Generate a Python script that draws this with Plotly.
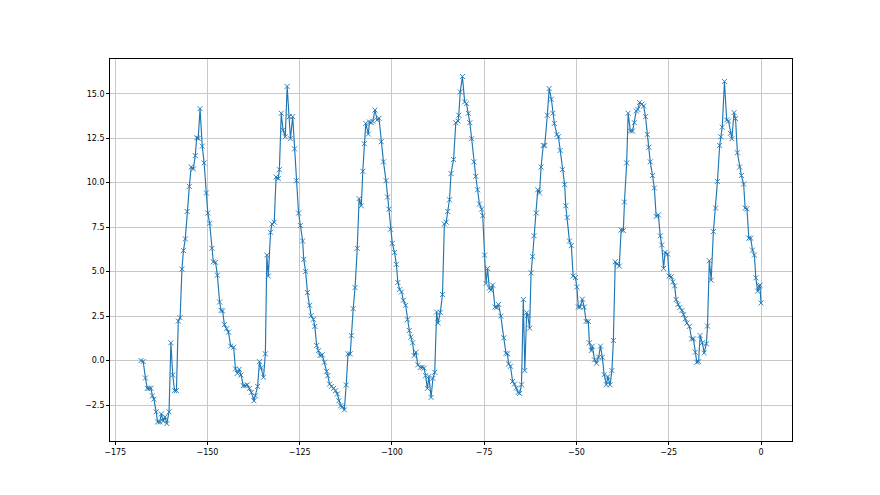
import plotly.graph_objects as go

hours = [
    -168.0, -167.4, -166.8, -166.3, -165.8, -165.3, -164.9, -164.5, -163.9, -163.5,
    -162.9, -162.5, -162.0, -161.5, -161.0, -160.4, -159.9, -159.4, -158.9, -158.4,
    -157.9, -157.4, -156.9, -156.5, -156.0, -155.5, -154.9, -154.4, -153.8, -153.3,
    -152.9, -152.5, -152.0, -151.4, -150.9, -150.3, -149.9, -149.4, -148.8, -148.4,
    -147.8, -147.3, -146.7, -146.3, -145.9, -145.4, -144.8, -144.3, -143.7, -142.9,
    -142.4, -141.9, -141.4, -140.9, -140.3, -139.8, -139.2, -138.6, -138.1, -137.4,
    -137.0, -136.4, -135.9, -135.4, -134.8, -134.3, -133.9, -133.5, -132.9, -132.5,
    -131.9, -131.4, -130.8, -130.5, -130.0, -129.5, -128.9, -128.4, -127.8, -127.5,
    -126.9, -126.4, -125.9, -125.3, -124.8, -124.2, -123.9, -123.4, -122.9, -122.3,
    -121.9, -121.3, -120.9, -120.4, -119.9, -119.5, -118.9, -118.3, -117.7, -117.4,
    -116.9, -116.4, -115.8, -115.3, -114.8, -114.4, -113.9, -113.4, -112.9, -112.4,
    -111.9, -111.3, -111.0, -110.5, -110.0, -109.4, -108.9, -108.3, -107.9, -107.5,
    -107.1, -106.4, -106.1, -105.6, -105.2, -104.6, -104.0, -103.5, -102.9, -102.3,
    -101.6, -101.2, -100.8, -100.4, -99.9, -99.3, -98.8, -98.4, -97.9, -97.4,
    -96.9, -96.3, -95.8, -95.3, -94.9, -94.4, -94.0, -93.5, -93.0, -92.3,
    -91.8, -91.3, -90.9, -90.4, -90.0, -89.4, -88.9, -88.4, -87.9, -87.5,
    -86.9, -86.3, -85.8, -85.3, -84.9, -84.4, -84.0, -83.3, -82.7, -82.1,
    -81.9, -81.5, -80.9, -80.3, -79.8, -79.3, -78.9, -78.4, -77.8, -77.3,
    -76.8, -76.3, -75.7, -75.4, -74.9, -74.5, -74.1, -73.6, -73.2, -72.7,
    -72.1, -71.6, -71.1, -70.5, -69.7, -69.1, -68.7, -68.4, -67.9, -67.3,
    -66.8, -66.3, -65.8, -65.4, -64.9, -64.4, -64.0, -63.5, -63.2, -62.7,
    -62.3, -61.9, -61.5, -60.9, -60.5, -60.0, -59.6, -59.0, -58.6, -57.9,
    -57.4, -56.8, -56.4, -56.0, -55.3, -54.9, -54.4, -53.8, -53.2, -52.9,
    -52.5, -51.9, -51.4, -50.9, -50.3, -49.9, -49.5, -49.0, -48.4, -47.9,
    -47.4, -46.8, -46.5, -46.0, -45.7, -45.1, -44.6, -44.0, -43.5, -43.0,
    -42.5, -41.9, -41.5, -40.9, -40.4, -40.0, -39.5, -39.0, -38.4, -37.9,
    -37.3, -37.0, -36.4, -36.0, -35.4, -34.8, -34.3, -33.8, -33.4, -32.9,
    -32.3, -31.8, -31.3, -30.8, -30.4, -30.0, -29.4, -28.9, -28.4, -27.8,
    -27.3, -26.9, -26.4, -26.0, -25.3, -24.9, -24.3, -23.9, -23.4, -23.0,
    -22.5, -22.0, -21.4, -21.0, -20.5, -20.1, -19.4, -18.8, -18.3, -17.8,
    -17.4, -16.9, -16.5, -15.9, -15.4, -14.8, -14.5, -14.0, -13.5, -12.9,
    -12.3, -11.8, -11.2, -10.9, -10.5, -9.9, -9.3, -8.8, -8.3, -7.9,
    -7.3, -6.9, -6.4, -5.8, -5.3, -4.7, -4.3, -3.8, -3.3, -2.8,
    -2.3, -1.8, -1.4, -0.9, -0.5, -0.3, 0.0,
]

temps = [
    0.00, -0.05, -0.98, -1.56, -1.56, -1.56, -1.98, -2.17, -2.88, -3.45,
    -3.45, -3.00, -3.40, -3.16, -3.54, -2.88, 1.00, -0.81, -1.69, -1.69,
    2.22, 2.41, 5.14, 6.18, 6.84, 8.38, 9.79, 10.88, 10.77, 11.52,
    12.52, 12.49, 14.16, 12.05, 11.11, 9.42, 8.29, 7.72, 6.31, 5.55,
    5.52, 4.80, 3.29, 2.82, 2.79, 2.02, 1.79, 1.60, 0.81, 0.75,
    -0.47, -0.72, -0.49, -0.81, -1.41, -1.41, -1.36, -1.56, -1.79, -2.26,
    -1.98, -1.45, -0.06, -0.41, -0.94, 0.38, 5.93, 4.75, 7.21, 7.68,
    7.78, 10.32, 10.23, 10.73, 13.90, 12.95, 12.58, 15.41, 13.71, 12.47,
    13.71, 11.90, 10.11, 8.29, 7.59, 6.72, 5.69, 5.01, 3.82, 3.11,
    2.52, 2.32, 1.92, 0.85, 0.56, 0.28, 0.32, -0.09, -0.60, -0.85,
    -1.32, -1.45, -1.56, -1.69, -1.88, -2.26, -2.54, -2.60, -2.77, -1.37,
    0.38, 0.38, 1.41, 2.92, 4.10, 6.31, 9.10, 8.70, 10.64, 12.19,
    13.33, 12.73, 13.41, 13.37, 13.45, 14.08, 13.52, 13.62, 12.30, 11.17,
    10.11, 9.19, 8.51, 7.38, 6.59, 6.08, 5.41, 4.39, 3.99, 3.86,
    3.39, 3.11, 2.30, 1.69, 1.32, 1.00, 0.28, 0.47, -0.24, -0.38,
    -0.38, -0.43, -0.85, -1.56, -0.89, -2.07, -1.00, -0.66, 2.73, 2.11,
    2.71, 3.71, 7.68, 7.78, 8.38, 9.04, 10.51, 11.30, 13.37, 13.46,
    13.79, 15.10, 15.97, 14.54, 14.44, 13.90, 13.37, 12.47, 11.17, 10.36,
    9.60, 8.80, 8.51, 8.14, 5.93, 4.33, 5.18, 4.08, 3.95, 4.24,
    3.01, 2.98, 3.16, 2.50, 1.28, 0.41, 0.38, -0.19, -0.32, -1.17,
    -1.32, -1.54, -1.79, -1.85, -1.36, 3.43, -0.56, 2.69, 2.54, 1.82,
    4.93, 5.84, 7.02, 8.29, 9.60, 9.42, 10.88, 12.09, 12.09, 13.79,
    15.29, 14.69, 13.90, 13.33, 12.71, 12.58, 11.81, 10.73, 9.89, 8.70,
    8.04, 6.72, 6.46, 4.75, 4.67, 4.14, 3.01, 3.01, 3.45, 3.01,
    2.20, 2.20, 1.00, 0.56, 0.81, 0.04, -0.15, 0.19, 0.81, 0.19,
    -0.79, -1.36, -0.90, -1.36, -0.56, 1.13, 5.55, 5.42, 5.31, 7.34,
    7.31, 8.91, 11.11, 13.90, 12.90, 12.90, 13.37, 14.03, 14.12, 14.50,
    14.41, 14.31, 13.71, 12.71, 11.99, 11.17, 10.40, 9.70, 8.10, 8.19,
    7.01, 6.50, 5.18, 6.08, 5.99, 4.75, 4.71, 4.42, 4.20, 3.43,
    3.15, 2.98, 2.82, 2.58, 2.35, 2.11, 1.92, 1.22, 1.22, 0.47,
    -0.09, -0.06, 1.41, 1.00, 0.43, 0.94, 1.94, 5.61, 4.52, 7.25,
    8.57, 10.07, 12.09, 12.58, 13.12, 15.69, 13.52, 13.46, 12.77, 12.47,
    13.94, 13.60, 11.68, 10.88, 10.40, 9.92, 8.57, 8.53, 6.88, 6.88,
    6.21, 5.93, 4.65, 3.90, 4.18, 4.24, 3.24,
]

x_ticks = [-175, -150, -125, -100, -75, -50, -25, 0]
y_ticks = [-2.5, 0.0, 2.5, 5.0, 7.5, 10.0, 12.5, 15.0]

fig = go.Figure()
fig.add_trace(go.Scatter(
    x=hours, y=temps, mode="lines+markers",
    line=dict(color="#1f77b4", width=1.15),
    marker=dict(symbol="x-thin", size=5, color="#1f77b4",
                line=dict(color="#1f77b4", width=0.9)),
    showlegend=False,
))

axis_common = dict(
    showgrid=True, gridcolor="#c8c8c8", gridwidth=0.8,
    showline=True, linecolor="black", linewidth=0.8, mirror=True,
    ticks="outside", ticklen=3, tickwidth=0.8, tickcolor="black",
    zeroline=False,
    tickfont=dict(family="DejaVu Sans", size=8, color="black"),
)

# The page body adds an 8 px offset; margins compensate so the axes box
# lands where the reference has it (110..792 x 59..441).
fig.update_layout(
    width=880, height=495,
    margin=dict(l=102, r=96, t=51, b=62),
    paper_bgcolor="white", plot_bgcolor="white",
    xaxis=dict(range=[-176.4, 8.4], tickvals=x_ticks,
               ticktext=[str(v).replace("-", "\u2212") for v in x_ticks],
               **axis_common),
    yaxis=dict(range=[-4.52, 16.95], tickvals=y_ticks,
               ticktext=[f"{v:.1f}".replace("-", "\u2212") for v in y_ticks],
               **axis_common),
)

fig.write_html("out.html")
